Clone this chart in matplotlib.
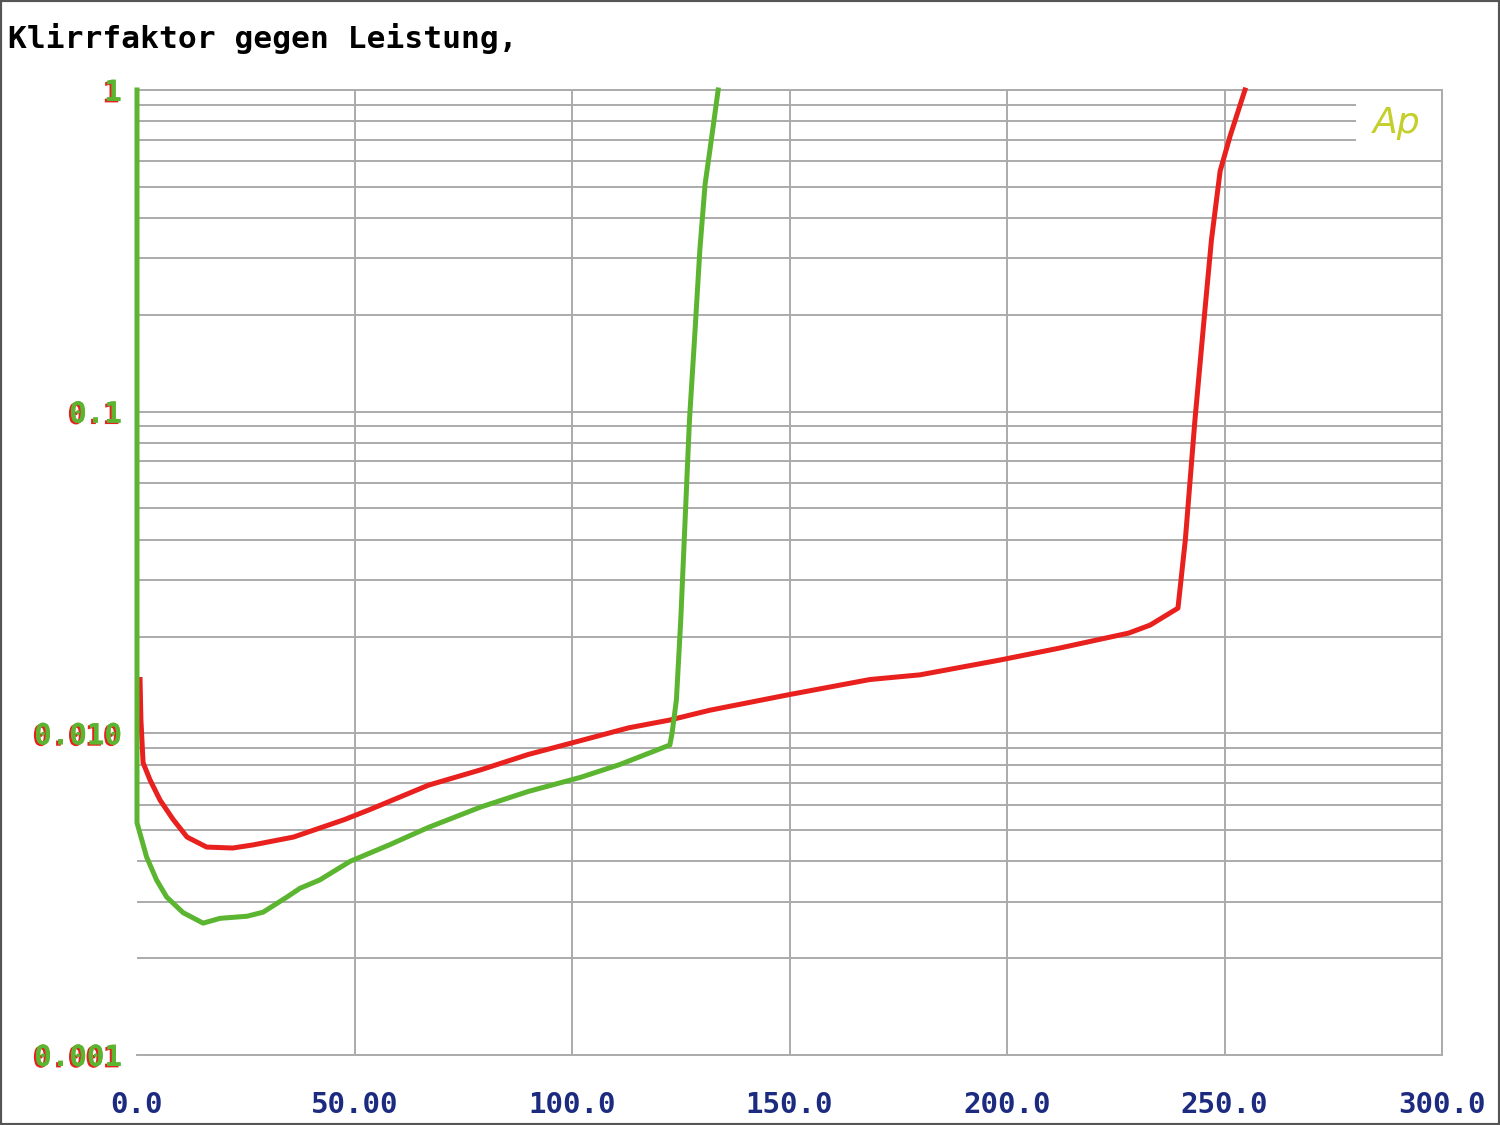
import numpy as np
import matplotlib
matplotlib.use("Agg")
import matplotlib.pyplot as plt
import matplotlib.patheffects as pe
from matplotlib.patches import Rectangle

# Daten: Leistung in W, Klirrfaktor
red_x = [0.7, 0.9, 1.4, 3.0, 5.3, 8.3, 11.5, 16.0, 22.0, 26.7, 36.0, 47.8, 53.6, 67.0,
         79.0, 90.0, 99.5, 113.0, 122.5, 131.7, 150.0, 168.5, 180.0, 198.4, 212.0, 228.0,
         232.9, 239.3, 241.0, 243.2, 245.5, 247.0, 249.0, 251.3, 254.7]
red_y = [0.0147, 0.011, 0.0081, 0.00716, 0.0062, 0.0054, 0.00476, 0.00443, 0.0044, 0.0045,
         0.00476, 0.0054, 0.0058, 0.0069, 0.0077, 0.0086, 0.0093, 0.0104, 0.0110, 0.0118,
         0.0132, 0.0147, 0.0152, 0.0169, 0.0184, 0.0205, 0.0217, 0.0245, 0.040, 0.094,
         0.207, 0.342, 0.56, 0.72, 1.0]

green_x = [0.0, 0.0, 2.2, 4.5, 6.8, 10.6, 15.2, 19.1, 25.3, 29.0, 34.5, 37.5, 42.0, 49.0,
           58.0, 67.0, 79.0, 90.0, 102.0, 111.0, 122.5, 123.0, 124.0, 125.0, 126.0, 127.0,
           128.3, 129.4, 130.6, 131.7, 133.6]
green_y = [1.0, 0.00527, 0.00413, 0.0035, 0.0031, 0.00277, 0.00257, 0.00266, 0.0027,
           0.00278, 0.0031, 0.0033, 0.0035, 0.0040, 0.0045, 0.0051, 0.0059, 0.0066, 0.0073,
           0.0080, 0.0092, 0.010, 0.0127, 0.0225, 0.046, 0.094, 0.18, 0.32, 0.51, 0.65, 1.0]

x_ticks = [0, 50, 100, 150, 200, 250, 300]
x_labels = ["0.0", "50.00", "100.0", "150.0", "200.0", "250.0", "300.0"]
y_ticks = [1, 0.1, 0.01, 0.001]
y_labels = ["1", "0.1", "0.010", "0.001"]

GRID = "#ababab"
RED = "#e8201e"
GREEN = "#5cb531"
NAVY = "#1c2a80"

fig = plt.figure(figsize=(15, 11.25), dpi=100)
ax = fig.add_axes([137/1500, 1-1055/1125, (1442-137)/1500, (1055-90)/1125])
ax.set_yscale("log")
ax.set_xlim(0, 300)
ax.set_ylim(0.001, 1)

# Gitter
for xv in x_ticks[1:]:
    ax.axvline(xv, color=GRID, lw=1.4, zorder=1)
for dec in [0.001, 0.01, 0.1]:
    for m in range(1, 10):
        v = dec * m
        xmax = 1.0
        if dec == 0.1 and m >= 7:
            xmax = 280 / 300  # Platz fuer das Ap-Logo
        ax.axhline(v, xmax=xmax, color=GRID, lw=1.4, zorder=1)
ax.axhline(1.0, color=GRID, lw=1.4, zorder=1)

ax.plot(red_x, red_y, color=RED, lw=3.6, zorder=3, solid_joinstyle="round", clip_on=False)
ax.plot(green_x, green_y, color=GREEN, lw=3.6, zorder=4, solid_joinstyle="round", clip_on=False)

for s in ax.spines.values():
    s.set_color(GRID)
    s.set_linewidth(1.4)
ax.spines["left"].set_visible(False)

ax.minorticks_off()
ax.set_xticks(x_ticks)
ax.set_xticklabels(x_labels)
ax.set_yticks(y_ticks)
ax.set_yticklabels(y_labels)
ax.tick_params(axis="both", length=0)
ax.tick_params(axis="x", pad=26, colors=NAVY, labelsize=21)
ax.tick_params(axis="y", pad=11, colors=GREEN, labelsize=21)
for t in ax.get_xticklabels():
    t.set_fontfamily("DejaVu Sans Mono")
    t.set_fontweight("bold")
for t in ax.get_yticklabels():
    t.set_fontfamily("DejaVu Sans Mono")
    t.set_fontweight("bold")
    t.set_path_effects([pe.withSimplePatchShadow(offset=(-1.5, -1), shadow_rgbFace=RED, alpha=1.0), pe.Normal()])

ax.text(1.0 - 45/1305, 1 - 33/965, "Ap", transform=ax.transAxes, ha="center", va="center",
        fontsize=26, style="italic", color="#c4cf2a", fontfamily="DejaVu Sans")

fig.text(8/1500, 1 - 39/1125, "Klirrfaktor gegen Leistung,", fontsize=22.5,
         fontfamily="DejaVu Sans Mono", fontweight="bold", color="black", ha="left", va="center")

fig.patches.append(Rectangle((0, 0), 1, 1, transform=fig.transFigure, fill=False,
                             edgecolor="#555555", lw=3, zorder=10))

fig.savefig("out.png", dpi=100)
